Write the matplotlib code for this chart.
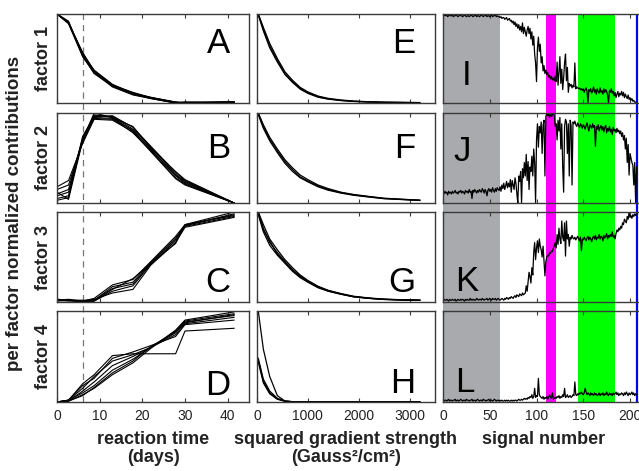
import matplotlib
matplotlib.use('Agg')

import matplotlib.pyplot as plt
import numpy as np

plt.rcParams['font.family'] = ['Liberation Sans', 'DejaVu Sans']

# --- concentration profiles vs reaction time (days), several runs per factor
days = [0, 2.7, 6, 8.7, 13, 17.8, 22, 27.8, 30, 41.5]

factor1_runs = [
    [1.00, 0.90, 0.54, 0.35, 0.19, 0.10, 0.055, 0.00, 0.00, 0.01],
    [1.00, 0.91, 0.56, 0.36, 0.20, 0.11, 0.06, 0.01, 0.00, 0.01],
    [1.00, 0.89, 0.52, 0.34, 0.18, 0.09, 0.05, 0.00, 0.01, 0.01],
    [1.00, 0.90, 0.55, 0.37, 0.21, 0.11, 0.065, 0.01, 0.00, 0.015],
    [1.00, 0.92, 0.53, 0.33, 0.19, 0.10, 0.05, 0.00, 0.00, 0.005],
    [1.00, 0.90, 0.57, 0.36, 0.20, 0.12, 0.06, 0.01, 0.01, 0.01],
]
factor2_runs = [
    [0.05, 0.08, 0.70, 1.00, 0.95, 0.80, 0.60, 0.30, 0.22, 0.00],
    [0.10, 0.15, 0.72, 0.97, 0.96, 0.82, 0.62, 0.32, 0.24, 0.00],
    [0.15, 0.20, 0.68, 0.95, 0.94, 0.78, 0.58, 0.28, 0.21, 0.00],
    [0.03, 0.06, 0.74, 0.96, 0.97, 0.84, 0.63, 0.34, 0.25, 0.00],
    [0.18, 0.25, 0.66, 0.93, 0.92, 0.79, 0.57, 0.27, 0.20, 0.00],
    [0.08, 0.12, 0.71, 0.98, 0.95, 0.85, 0.61, 0.35, 0.26, 0.00],
    [0.12, 0.04, 0.69, 0.94, 0.93, 0.81, 0.59, 0.31, 0.23, 0.00],
]
factor3_runs = [
    [0.02, 0.02, 0.01, 0.02, 0.15, 0.20, 0.43, 0.70, 0.85, 0.97],
    [0.03, 0.02, 0.00, 0.01, 0.12, 0.18, 0.42, 0.68, 0.84, 0.95],
    [0.02, 0.01, 0.01, 0.04, 0.19, 0.25, 0.45, 0.73, 0.86, 1.00],
    [0.02, 0.03, 0.01, 0.03, 0.10, 0.14, 0.41, 0.66, 0.83, 0.94],
    [0.01, 0.02, 0.02, 0.02, 0.17, 0.22, 0.44, 0.71, 0.85, 0.98],
    [0.03, 0.02, 0.00, 0.01, 0.14, 0.26, 0.43, 0.65, 0.86, 0.96],
]
factor4_runs = [
    [0.00, 0.02, 0.20, 0.30, 0.51, 0.53, 0.53, 0.53, 0.78, 0.81],
    [0.00, 0.02, 0.15, 0.28, 0.45, 0.52, 0.60, 0.76, 0.88, 0.95],
    [0.00, 0.01, 0.12, 0.22, 0.40, 0.50, 0.60, 0.74, 0.86, 0.93],
    [0.00, 0.02, 0.10, 0.18, 0.35, 0.47, 0.60, 0.78, 0.89, 0.97],
    [0.00, 0.01, 0.08, 0.15, 0.30, 0.43, 0.59, 0.79, 0.90, 0.99],
    [0.00, 0.02, 0.18, 0.26, 0.48, 0.55, 0.62, 0.72, 0.85, 0.90],
    [0.00, 0.01, 0.07, 0.16, 0.32, 0.45, 0.61, 0.77, 0.87, 0.96],
]

# --- diffusion decays vs squared gradient strength
grads = [25, 125, 250, 400, 550, 700, 850, 1000, 1200, 1400, 1650, 1900, 2200, 2500, 2850, 3200]

decay1_runs = [
    [1.00, 0.83, 0.64, 0.48, 0.33, 0.24, 0.165, 0.115, 0.07, 0.047, 0.03, 0.019, 0.012, 0.008, 0.006, 0.004],
    [1.00, 0.85, 0.67, 0.50, 0.35, 0.255, 0.175, 0.125, 0.078, 0.052, 0.034, 0.022, 0.014, 0.009, 0.007, 0.005],
    [0.99, 0.81, 0.62, 0.46, 0.32, 0.23, 0.155, 0.108, 0.065, 0.043, 0.027, 0.017, 0.011, 0.007, 0.005, 0.003],
]
decay2_runs = [
    [1.00, 0.85, 0.71, 0.58, 0.46, 0.37, 0.29, 0.245, 0.19, 0.15, 0.115, 0.09, 0.07, 0.05, 0.04, 0.03],
    [1.00, 0.87, 0.73, 0.60, 0.48, 0.39, 0.31, 0.26, 0.20, 0.16, 0.12, 0.095, 0.073, 0.053, 0.042, 0.032],
    [0.98, 0.83, 0.69, 0.56, 0.44, 0.35, 0.28, 0.235, 0.18, 0.142, 0.11, 0.086, 0.066, 0.048, 0.038, 0.028],
]
decay3_runs = [
    [1.00, 0.82, 0.66, 0.55, 0.45, 0.36, 0.28, 0.23, 0.165, 0.125, 0.09, 0.06, 0.042, 0.03, 0.024, 0.02],
    [1.00, 0.86, 0.70, 0.58, 0.47, 0.38, 0.30, 0.24, 0.175, 0.13, 0.094, 0.064, 0.045, 0.032, 0.025, 0.02],
    [0.97, 0.78, 0.63, 0.52, 0.43, 0.34, 0.27, 0.22, 0.158, 0.12, 0.086, 0.057, 0.04, 0.028, 0.022, 0.018],
    [0.99, 0.80, 0.68, 0.53, 0.44, 0.35, 0.29, 0.225, 0.17, 0.122, 0.088, 0.059, 0.041, 0.029, 0.023, 0.019],
]
decay4_runs = [
    [1.00, 0.58, 0.28, 0.07, 0.01, 0.003, 0.002, 0.002, 0.002, 0.002, 0.002, 0.002, 0.002, 0.002, 0.002, 0.002],
    [0.48, 0.25, 0.12, 0.04, 0.01, 0.004, 0.002, 0.002, 0.002, 0.002, 0.002, 0.002, 0.002, 0.002, 0.002, 0.002],
    [0.44, 0.21, 0.09, 0.03, 0.008, 0.003, 0.002, 0.002, 0.002, 0.002, 0.002, 0.002, 0.002, 0.002, 0.002, 0.002],
    [0.46, 0.23, 0.10, 0.035, 0.009, 0.003, 0.002, 0.002, 0.002, 0.002, 0.002, 0.002, 0.002, 0.002, 0.002, 0.002],
]

# --- spectra vs signal number (one value per signal, 0..207)
spectrum1 = [
    0.99, 0.98, 0.99, 0.98, 0.99, 0.97, 0.98, 0.99, 0.98, 0.98,
    0.99, 0.97, 0.98, 0.98, 0.99, 0.98, 0.97, 0.98, 0.99, 0.98,
    0.98, 0.97, 0.98, 0.99, 0.98, 0.97, 0.98, 0.98, 0.97, 0.98,
    0.99, 0.98, 0.97, 0.98, 0.98, 0.99, 0.97, 0.98, 0.98, 0.97,
    0.98, 0.99, 0.98, 0.97, 0.98, 0.98, 0.99, 0.97, 0.98, 0.98,
    0.97, 0.98, 0.99, 0.97, 0.98, 0.98, 0.99, 0.97, 0.98, 0.97,
    0.97, 0.96, 0.97, 0.95, 0.96, 0.96, 0.94, 0.95, 0.96, 0.93,
    0.94, 0.95, 0.92, 0.93, 0.90, 0.92, 0.88, 0.91, 0.86, 0.89,
    0.84, 0.88, 0.82, 0.86, 0.80, 0.90, 0.78, 0.85, 0.80, 0.75,
    0.82, 0.86, 0.78, 0.84, 0.72, 0.80, 0.65, 0.75, 0.55, 0.45,
    0.24, 0.62, 0.74, 0.58, 0.66, 0.45, 0.52, 0.36, 0.42, 0.33,
    0.37, 0.32, 0.34, 0.29, 0.31, 0.27, 0.30, 0.26, 0.28, 0.25,
    0.30, 0.24, 0.46, 0.20, 0.35, 0.52, 0.22, 0.38, 0.15, 0.28,
    0.45, 0.55, 0.25, 0.40, 0.12, 0.22, 0.19, 0.21, 0.17, 0.20,
    0.18, 0.45, 0.16, 0.18, 0.17, 0.16, 0.17, 0.15, 0.16, 0.14,
    0.16, 0.12, 0.15, 0.17, 0.13, 0.00, 0.15, 0.13, 0.16, 0.11,
    0.14, 0.18, 0.12, 0.15, 0.10, 0.16, 0.13, 0.11, 0.17, 0.12,
    0.14, 0.10, 0.16, 0.12, 0.15, 0.13, 0.09, 0.00, 0.14, 0.12,
    0.16, 0.11, 0.13, 0.08, 0.12, 0.06, 0.10, 0.13, 0.07, 0.11,
    0.09, 0.13, 0.08, 0.12, 0.06, 0.10, 0.07, 0.05, 0.09, 0.04,
    0.06, 0.03, 0.05, 0.02, 0.03, 0.01, 0.01, 0.00,
]
spectrum2 = [
    0.12, 0.10, 0.13, 0.11, 0.12, 0.09, 0.13, 0.11, 0.12, 0.10,
    0.13, 0.11, 0.12, 0.14, 0.11, 0.12, 0.10, 0.13, 0.12, 0.14,
    0.11, 0.13, 0.12, 0.10, 0.14, 0.12, 0.13, 0.11, 0.15, 0.12,
    0.13, 0.05, 0.14, 0.12, 0.15, 0.13, 0.11, 0.14, 0.12, 0.15,
    0.13, 0.12, 0.16, 0.14, 0.11, 0.15, 0.13, 0.08, 0.14, 0.16,
    0.13, 0.15, 0.12, 0.17, 0.14, 0.12, 0.16, 0.13, 0.17, 0.15,
    0.14, 0.18, 0.13, 0.20, 0.16, 0.22, 0.15, 0.19, 0.24, 0.17,
    0.22, 0.18, 0.26, 0.12, 0.25, 0.20, 0.15, 0.28, 0.22, 0.10,
    0.00, 0.30, 0.24, 0.35, 0.00, 0.38, 0.28, 0.45, 0.30, 0.54,
    0.25, 0.46, 0.15, 0.40, 0.35, 0.52, 0.30, 0.60, 0.45, 0.00,
    0.70, 0.88, 0.62, 0.85, 0.78, 0.90, 0.55, 0.86, 0.92, 0.30,
    0.96, 1.00, 0.97, 0.99, 0.95, 1.00, 0.96, 0.98, 1.00, 0.97,
    0.85, 0.88, 0.70, 0.92, 0.80, 0.95, 0.60, 0.88, 0.40, 0.12,
    0.85, 0.93, 0.90, 0.55, 0.88, 0.30, 0.92, 0.86, 0.20, 0.90,
    0.88, 0.91, 0.87, 0.85, 0.89, 0.86, 0.84, 0.88, 0.86, 0.83,
    0.87, 0.85, 0.82, 0.86, 0.89, 0.84, 0.80, 0.87, 0.85, 0.83,
    0.88, 0.84, 0.86, 0.63, 0.85, 0.82, 0.87, 0.80, 0.84, 0.86,
    0.81, 0.85, 0.79, 0.84, 0.86, 0.78, 0.83, 0.80, 0.85, 0.79,
    0.82, 0.76, 0.84, 0.80, 0.82, 0.78, 0.83, 0.79, 0.81, 0.77,
    0.80, 0.74, 0.78, 0.70, 0.75, 0.60, 0.72, 0.45, 0.65, 0.31,
    0.55, 0.50, 0.45, 0.42, 0.20, 0.45, 0.00, 0.40,
]
spectrum3 = [
    0.02, 0.03, 0.02, 0.02, 0.03, 0.02, 0.01, 0.03, 0.02, 0.02,
    0.03, 0.02, 0.02, 0.03, 0.01, 0.02, 0.03, 0.02, 0.02, 0.03,
    0.02, 0.03, 0.02, 0.01, 0.03, 0.02, 0.03, 0.02, 0.02, 0.04,
    0.02, 0.03, 0.02, 0.03, 0.02, 0.02, 0.04, 0.03, 0.02, 0.03,
    0.03, 0.02, 0.04, 0.03, 0.02, 0.03, 0.03, 0.04, 0.02, 0.03,
    0.04, 0.03, 0.02, 0.04, 0.03, 0.03, 0.04, 0.02, 0.03, 0.04,
    0.03, 0.02, 0.03, 0.04, 0.03, 0.02, 0.04, 0.03, 0.05, 0.04,
    0.03, 0.05, 0.04, 0.06, 0.05, 0.04, 0.06, 0.07, 0.05, 0.08,
    0.07, 0.06, 0.09, 0.08, 0.07, 0.10, 0.08, 0.09, 0.10, 0.18,
    0.12, 0.22, 0.33, 0.28, 0.21, 0.38, 0.30, 0.55, 0.66, 0.47,
    0.60, 0.68, 0.55, 0.70, 0.62, 0.58, 0.50, 0.62, 0.45, 0.29,
    0.45, 0.50, 0.52, 0.51, 0.55, 0.54, 0.57, 0.56, 0.60, 0.62,
    0.66, 0.60, 0.75, 0.64, 0.82, 0.70, 0.65, 0.90, 0.72, 0.68,
    0.88, 0.51, 0.90, 0.70, 0.75, 0.62, 0.72, 0.70, 0.74, 0.71,
    0.70, 0.72, 0.69, 0.71, 0.73, 0.70, 0.68, 0.72, 0.57, 0.70,
    0.69, 0.72, 0.70, 0.68, 0.71, 0.73, 0.69, 0.72, 0.70, 0.67,
    0.71, 0.73, 0.70, 0.74, 0.69, 0.72, 0.71, 0.75, 0.70, 0.73,
    0.72, 0.68, 0.74, 0.71, 0.73, 0.76, 0.70, 0.74, 0.72, 0.75,
    0.73, 0.78, 0.72, 0.74, 0.70, 0.76, 0.80, 0.78, 0.82, 0.80,
    0.84, 0.82, 0.88, 0.86, 0.92, 0.90, 0.88, 0.95, 0.92, 1.00,
    0.94, 0.96, 0.93, 0.97, 0.95, 0.98, 0.96, 0.98,
]
spectrum4 = [
    0.02, 0.01, 0.02, 0.02, 0.01, 0.02, 0.03, 0.01, 0.02, 0.02,
    0.01, 0.02, 0.02, 0.03, 0.01, 0.02, 0.02, 0.01, 0.02, 0.03,
    0.02, 0.01, 0.02, 0.02, 0.01, 0.03, 0.02, 0.02, 0.01, 0.02,
    0.02, 0.03, 0.01, 0.02, 0.02, 0.01, 0.02, 0.03, 0.02, 0.01,
    0.02, 0.02, 0.01, 0.03, 0.02, 0.02, 0.01, 0.02, 0.02, 0.03,
    0.01, 0.02, 0.02, 0.01, 0.02, 0.03, 0.02, 0.01, 0.02, 0.02,
    0.01, 0.02, 0.01, 0.02, 0.01, 0.01, 0.02, 0.01, 0.02, 0.01,
    0.02, 0.01, 0.01, 0.02, 0.01, 0.02, 0.01, 0.02, 0.02, 0.01,
    0.02, 0.03, 0.02, 0.02, 0.03, 0.02, 0.03, 0.04, 0.03, 0.04,
    0.03, 0.05, 0.04, 0.06, 0.05, 0.08, 0.04, 0.06, 0.15, 0.05,
    0.07, 0.06, 0.26, 0.08, 0.06, 0.05, 0.04, 0.06, 0.03, 0.05,
    0.04, 0.06, 0.03, 0.05, 0.08, 0.05, 0.04, 0.10, 0.03, 0.04,
    0.05, 0.04, 0.06, 0.05, 0.07, 0.04, 0.06, 0.05, 0.08, 0.06,
    0.15, 0.05, 0.06, 0.08, 0.05, 0.06, 0.07, 0.05, 0.06, 0.08,
    0.07, 0.22, 0.08, 0.07, 0.09, 0.08, 0.10, 0.09, 0.11, 0.09,
    0.08, 0.10, 0.15, 0.11, 0.08, 0.10, 0.09, 0.07, 0.10, 0.08,
    0.09, 0.07, 0.10, 0.08, 0.09, 0.07, 0.08, 0.10, 0.07, 0.09,
    0.08, 0.10, 0.07, 0.09, 0.08, 0.11, 0.08, 0.07, 0.10, 0.08,
    0.09, 0.07, 0.10, 0.08, 0.09, 0.11, 0.08, 0.10, 0.07, 0.09,
    0.08, 0.10, 0.09, 0.07, 0.10, 0.08, 0.11, 0.09, 0.07, 0.10,
    0.08, 0.09, 0.11, 0.08, 0.10, 0.07, 0.09, 0.08,
]

factor_names = ['factor 1', 'factor 2', 'factor 3', 'factor 4']
time_letters = ['A', 'B', 'C', 'D']
decay_letters = ['E', 'F', 'G', 'H']
spec_letters = ['I', 'J', 'K', 'L']

# highlighted signal ranges in the spectra column
gray_range = (0, 60.6)
magenta_range = (110, 120.7)
green_range = (144, 184)
blue_mark = 207.6

# --- layout in pixels (figure is 639 x 471)
W, H = 639.0, 471.0
rows_px = [(14, 103), (113, 203), (212, 302), (311, 402)]
cols_px = [(57, 249), (257, 435), (443, 645)]


def box(x0, x1, y0, y1):
    return [x0 / W, 1 - y1 / H, (x1 - x0) / W, (y1 - y0) / H]


fig = plt.figure(figsize=(W / 100, H / 100), dpi=100)

edge = '#3a3a3a'
xlims = [(0, 45), (0, 3500), (0, 216)]
xticks = [[0, 10, 20, 30, 40], [0, 1000, 2000, 3000], [0, 50, 100, 150, 200]]

# background axes for things running across the row gaps
bg1 = fig.add_axes(box(cols_px[0][0], cols_px[0][1], rows_px[0][0], rows_px[3][1]), zorder=0)
bg1.set_xlim(*xlims[0])
bg1.set_ylim(0, 1)
bg1.axvline(6, color='#777777', lw=0.9, ls=(0, (5, 4)))
bg1.axis('off')

bg3 = fig.add_axes(box(cols_px[2][0], cols_px[2][1], rows_px[0][0], rows_px[3][1]), zorder=0)
bg3.set_xlim(*xlims[2])
bg3.set_ylim(0, 1)
bg3.axvspan(*gray_range, color='#a8aaad', lw=0)
bg3.axvspan(*magenta_range, color='#ff00ff', lw=0)
bg3.axvspan(*green_range, color='#00ff00', lw=0)
bg3.axvline(blue_mark, color='#0000ff', lw=1.6)
bg3.axis('off')

time_runs = [factor1_runs, factor2_runs, factor3_runs, factor4_runs]
decay_runs = [decay1_runs, decay2_runs, decay3_runs, decay4_runs]
spectra = [spectrum1, spectrum2, spectrum3, spectrum4]

# letter positions (axes fraction, baseline)
time_pos = [0.558, 0.50, 0.111, 0.077]
decay_pos = [0.558, 0.50, 0.115, 0.099]
spec_pos = [(0.116, 0.20, 'center'), (0.05, 0.47, 'left'), (0.06, 0.12, 'left'), (0.06, 0.11, 'left')]

for r in range(4):
    y0, y1 = rows_px[r]
    axes = []
    for c in range(3):
        ax = fig.add_axes(box(cols_px[c][0], cols_px[c][1], y0, y1), zorder=1)
        ax.set_facecolor('none')
        ax.set_xlim(*xlims[c])
        ax.set_ylim(0, 1)
        ax.set_xticks(xticks[c])
        ax.set_yticks([])
        ax.tick_params(axis='x', direction='in', length=3, width=0.8, color=edge,
                       top=True, bottom=True, labelbottom=(r == 3),
                       labelsize=10, labelcolor='#222222', pad=5)
        for s in ax.spines.values():
            s.set_color(edge)
            s.set_linewidth(1.0)
        axes.append(ax)

    ax1, ax2, ax3 = axes
    for run in time_runs[r]:
        ax1.plot(days, run, color='black', lw=0.8)
    for run in decay_runs[r]:
        ax2.plot(grads, run, color='black', lw=0.9)
    sig = np.arange(len(spectra[r]))
    ax3.plot(sig, spectra[r], color='black', lw=0.9)

    ax1.text(0.90, time_pos[r], time_letters[r], transform=ax1.transAxes,
             ha='right', va='baseline', fontsize=25)
    ax2.text(0.887, decay_pos[r], decay_letters[r], transform=ax2.transAxes,
             ha='right', va='baseline', fontsize=25)
    sx, sy, sha = spec_pos[r]
    ax3.text(sx, sy, spec_letters[r], transform=ax3.transAxes,
             ha=sha, va='baseline', fontsize=25)

    # factor label left of each row
    fig.text(43 / W, 1 - (y0 + y1) / 2 / H, factor_names[r], rotation=90,
             ha='center', va='center', fontsize=13, fontweight='bold', color='#222222')

fig.text(15 / W, 1 - 213 / H, 'per factor normalized contributions', rotation=90,
         ha='center', va='center', fontsize=13.5, fontweight='bold', color='#222222')

# x labels under each column
lab_y = 1 - 431 / H
fig.text((57 + 249) / 2 / W, lab_y, 'reaction time\n(days)', ha='center', va='top',
         fontsize=13, fontweight='bold', color='#222222', linespacing=1.1)
fig.text((257 + 435) / 2 / W, lab_y, 'squared gradient strength\n(Gauss\u00b2/cm\u00b2)', ha='center',
         va='top', fontsize=13, fontweight='bold', color='#222222', linespacing=1.1)
fig.text((443 + 645) / 2 / W, lab_y, 'signal number', ha='center', va='top',
         fontsize=13, fontweight='bold', color='#222222')

fig.savefig('out.png', dpi=100)
